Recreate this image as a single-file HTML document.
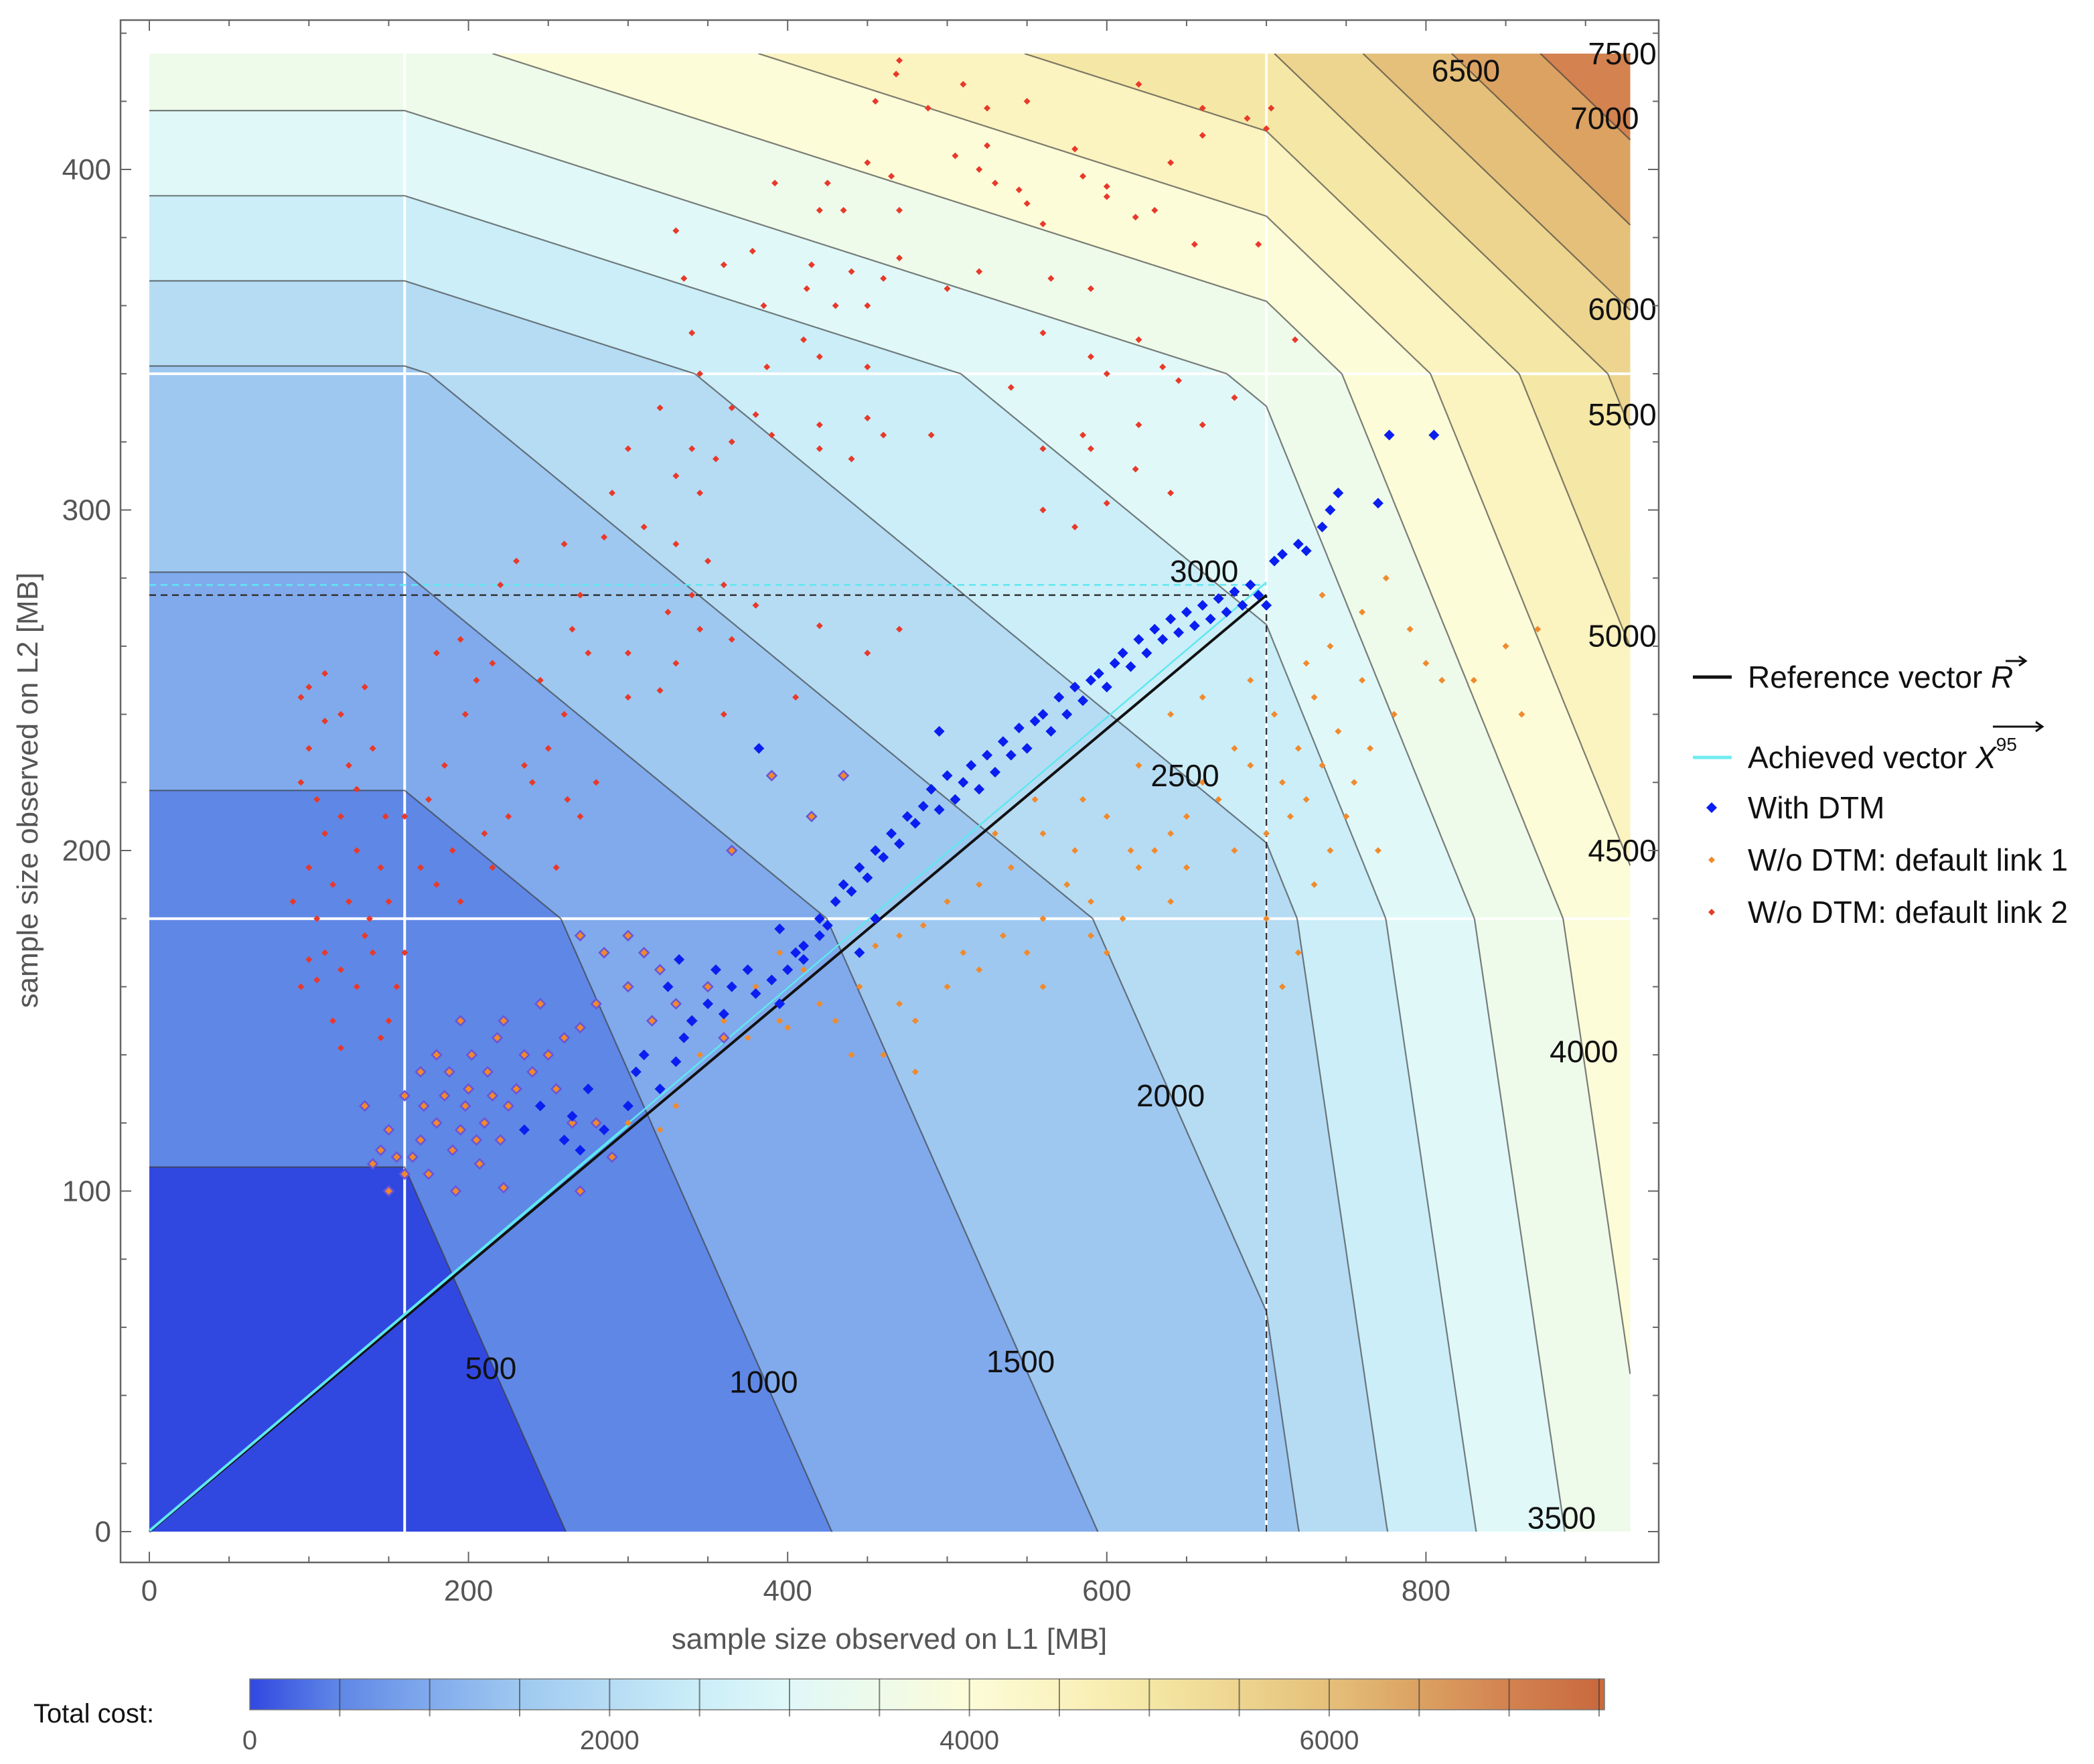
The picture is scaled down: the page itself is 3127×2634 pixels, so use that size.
<!DOCTYPE html>
<html><head><meta charset="utf-8">
<style>
html,body{margin:0;padding:0;background:#fff;}
svg{display:block;font-family:"Liberation Sans",sans-serif;}
</style></head>
<body>
<svg id="chart" width="3127" height="2634" viewBox="0 0 3127 2634" xmlns="http://www.w3.org/2000/svg">
<defs>
<clipPath id="plotClip"><rect x="223" y="80" width="2212" height="2208"/></clipPath>
<clipPath id="frameClip"><rect x="180" y="30" width="2297" height="2303"/></clipPath>
<linearGradient id="cbGrad" x1="0" x2="1" y1="0" y2="0"></linearGradient>
</defs>
<g id="fills" clip-path="url(#plotClip)"></g>
<g id="grid"></g>
<g id="lines" clip-path="url(#plotClip)"></g>
<g id="vectors"></g>
<g id="points"></g>
<g id="clabels" clip-path="url(#frameClip)" font-size="46" fill="#111"></g>
<g id="axes"></g>
<g id="legend"></g>
<g id="colorbar"></g>
</svg>
<script>
// ---- cost model data ----
const baseCost = 197;
const xBreaks = [160, 700];
const xSlopes = [0, 3, 9];
const yBreaks = [180, 340];
const ySlopes = [2.83, 7.8, 20];
const levels = [500,1000,1500,2000,2500,3000,3500,4000,4500,5000,5500,6000,6500,7000,7500];
const bandColors = ['#3148e0','#5f87e6','#80aaec','#9ec8f0','#b6dcf4','#cbeef8','#e0f8f8','#eefaea','#fcfcd8','#fbf3c0','#f5e7a5','#edd58f','#e5c07a','#dba262','#d38250','#c96a3e'];
const xTicks = [0,200,400,600,800];
const yTicks = [0,100,200,300,400];
const cbTicks = [0,2000,4000,6000];
const contourLabelText = ['500','1000','1500','2000','2500','3000','3500','4000','4500','5000','5500','6000','6500','7000','7500'];
const contourLabelX = [214,385,546,640,649,661,885,899,923,923,923,923,825,912,923];
const contourLabelY = [48,44,50,128,222,282,4,141,200,263,328,359,429,415,434];
const refVector = [700, 275];
const achVector = [700, 278];

const withDTM = [[235,118],[245,125],[260,115],[270,112],[285,118],[300,125],[305,135],[310,140],[320,130],[330,138],[335,145],[340,150],[350,155],[360,152],[365,160],[375,165],[380,158],[390,162],[395,155],[400,165],[405,170],[410,168],[420,180],[425,178],[430,185],[435,190],[440,188],[445,195],[450,192],[455,200],[460,198],[465,205],[470,202],[475,210],[480,208],[485,213],[490,218],[495,212],[500,222],[505,215],[510,220],[515,225],[520,218],[525,228],[530,223],[535,232],[540,228],[545,236],[550,230],[555,238],[560,240],[565,235],[570,245],[575,240],[580,248],[585,244],[590,250],[595,252],[600,248],[605,255],[610,258],[615,254],[620,262],[625,258],[630,265],[635,262],[640,268],[645,264],[650,270],[655,266],[660,272],[665,268],[670,274],[675,270],[680,276],[685,272],[690,278],[695,275],[700,272],[705,285],[710,287],[720,290],[725,288],[735,295],[740,300],[745,305],[770,302],[777,322],[805,322],[332,168],[382,230],[355,165],[495,235],[455,180],[445,170],[420,175],[395,177],[410,172],[325,160],[275,130],[265,122]];
const link1 = [[440,140],[430,150],[470,155],[480,150],[500,160],[510,170],[520,165],[535,175],[550,170],[560,180],[575,190],[590,185],[600,170],[610,180],[620,195],[630,200],[640,205],[650,210],[660,220],[670,215],[680,230],[690,225],[700,205],[705,240],[710,220],[715,210],[720,230],[725,215],[730,245],[735,225],[740,200],[745,235],[750,210],[755,220],[760,250],[765,230],[780,240],[790,265],[800,255],[810,250],[830,250],[850,260],[860,240],[870,265],[775,280],[760,270],[735,275],[690,250],[660,245],[640,240],[620,225],[600,210],[580,200],[560,205],[540,195],[520,190],[500,185],[485,178],[470,175],[455,172],[445,160],[410,165],[395,170],[420,155],[395,150],[375,145],[360,150],[345,140],[330,125],[320,118],[300,120],[310,140],[350,160],[380,160],[400,148],[460,140],[480,135],[560,160],[590,175],[640,185],[680,200],[700,180],[710,160],[720,170],[650,195],[615,200],[585,215],[555,215],[530,205],[725,255],[740,260],[770,200],[730,190]];
const link1Outlined = [[135,125],[140,108],[145,112],[150,118],[155,110],[160,105],[165,110],[170,115],[172,125],[175,105],[180,120],[185,128],[188,135],[190,112],[192,100],[195,118],[198,125],[200,130],[202,140],[205,115],[207,108],[210,120],[212,135],[215,128],[218,145],[220,115],[222,150],[225,125],[230,130],[235,140],[240,135],[245,155],[250,140],[255,130],[260,145],[265,120],[270,148],[280,120],[290,110],[195,150],[180,140],[170,135],[160,128],[150,100],[270,175],[285,170],[300,175],[310,170],[320,165],[330,155],[340,150],[350,160],[360,145],[300,160],[315,150],[280,155],[390,222],[435,222],[415,210],[365,200],[270,100],[222,101]];
const link2 = [[470,432],[468,428],[510,425],[455,420],[488,418],[525,418],[550,420],[620,425],[660,418],[688,415],[580,406],[525,407],[505,404],[520,400],[450,402],[465,398],[425,396],[392,396],[530,396],[545,394],[585,398],[600,395],[640,402],[660,410],[700,412],[420,388],[435,388],[470,388],[550,390],[600,392],[618,386],[630,388],[560,384],[655,378],[695,378],[330,382],[360,372],[378,376],[335,368],[415,372],[430,360],[440,370],[470,374],[520,370],[565,368],[590,365],[500,365],[385,360],[412,365],[450,360],[460,368],[410,350],[420,345],[340,352],[345,340],[387,342],[450,342],[560,352],[590,345],[620,350],[635,342],[645,338],[600,340],[540,336],[365,330],[380,328],[420,325],[450,327],[320,330],[300,318],[340,318],[330,310],[345,305],[355,315],[365,320],[420,318],[440,315],[460,322],[390,322],[490,322],[560,318],[585,322],[590,318],[620,325],[618,312],[560,300],[640,305],[580,295],[660,325],[680,333],[600,302],[290,305],[310,295],[285,292],[330,290],[350,285],[360,278],[325,270],[340,275],[345,265],[365,262],[380,272],[420,266],[470,265],[300,258],[260,290],[230,285],[220,278],[270,275],[265,265],[275,258],[245,250],[260,240],[300,245],[320,247],[330,255],[360,240],[405,245],[450,258],[250,230],[262,215],[255,195],[270,210],[280,220],[235,225],[215,255],[180,258],[195,262],[205,250],[198,240],[185,225],[175,215],[210,205],[225,210],[240,220],[190,200],[180,190],[160,210],[170,195],[195,185],[215,195],[95,245],[100,248],[110,252],[120,240],[135,248],[125,225],[140,230],[95,220],[105,215],[110,205],[120,210],[130,200],[145,195],[100,195],[90,185],[115,190],[125,185],[138,180],[150,185],[105,180],[110,170],[100,168],[120,165],[95,160],[130,160],[140,170],[150,150],[115,150],[120,142],[145,145],[105,162],[160,170],[155,160],[135,175],[100,230],[130,218],[148,210],[110,238],[703,418],[718,350]];

// ---- axis functions ----
const X0 = 223, XS = 2.383, Y0 = 2287, YS = 5.085;
const XMAX = 928, YMAX = 434;
function sx(v){ return X0 + XS * v; }
function sy(v){ return Y0 - YS * v; }
const NS = 'http://www.w3.org/2000/svg';
function mk(tag, attrs, parent){
  const e = document.createElementNS(NS, tag);
  for (const k in attrs) e.setAttribute(k, attrs[k]);
  parent.appendChild(e); return e;
}
function fx(x){
  if (x <= xBreaks[0]) return xSlopes[0]*x;
  const f1 = xSlopes[0]*xBreaks[0];
  if (x <= xBreaks[1]) return f1 + xSlopes[1]*(x - xBreaks[0]);
  return f1 + xSlopes[1]*(xBreaks[1]-xBreaks[0]) + xSlopes[2]*(x - xBreaks[1]);
}
function ginv(v){
  const g1 = ySlopes[0]*yBreaks[0];
  const g2 = g1 + ySlopes[1]*(yBreaks[1]-yBreaks[0]);
  if (v <= g1) return v / ySlopes[0];
  if (v <= g2) return yBreaks[0] + (v - g1)/ySlopes[1];
  return yBreaks[1] + (v - g2)/ySlopes[2];
}
function contourY(L, x){ return ginv(L - baseCost - fx(x)); }

const fills = document.getElementById('fills');
const linesG = document.getElementById('lines');
let r = mk('rect', {x:sx(0), y:sy(YMAX), width:sx(XMAX)-sx(0), height:sy(0)-sy(YMAX), fill:bandColors[0]}, fills);



levels.forEach((L, i) => {
  const pts = [], raw = [];
  for (let x = 0; x <= XMAX + 1e-9; x += 0.5) {
    const y = contourY(L, x);
    raw.push([x, y]);
    const yc = Math.max(0, Math.min(YMAX, y));
    pts.push(sx(x).toFixed(1) + ',' + sy(yc).toFixed(1));
  }
  pts.push(sx(XMAX) + ',' + sy(YMAX));
  pts.push(sx(0) + ',' + sy(YMAX));
  const poly = mk('polygon', {points: pts.join(' '), fill: bandColors[i+1]}, fills);
  
  
  const inr = raw.map(p => p[1] > 0 && p[1] < YMAX);
  const lp = [];
  raw.forEach((p, k) => {
    if (inr[k] || (k > 0 && inr[k-1]) || (k < raw.length-1 && inr[k+1])) {
      const yc = Math.max(0, Math.min(YMAX, p[1]));
      lp.push(sx(p[0]).toFixed(1) + ',' + sy(yc).toFixed(1));
    }
  });
  if (lp.length > 1) {
    const pl = mk('polyline', {points: lp.join(' '), fill:'none', stroke:'#3a3a3a', 'stroke-opacity':'0.65', 'stroke-width':'2.2'}, linesG);
    
    
  }
});

// white grid lines at breakpoints
const gridG = document.getElementById('grid');
xBreaks.forEach(b => {
  const l = mk('line', {x1:sx(b), x2:sx(b), y1:sy(0), y2:sy(YMAX), stroke:'#fff', 'stroke-width':'4'}, gridG);
  
  
});
yBreaks.forEach(b => {
  const l = mk('line', {x1:sx(0), x2:sx(XMAX), y1:sy(b), y2:sy(b), stroke:'#fff', 'stroke-width':'4'}, gridG);
  
  
});

// vectors
const vg = document.getElementById('vectors');
let e;
e = mk('line', {x1:sx(0), y1:sy(achVector[1]), x2:sx(achVector[0]), y2:sy(achVector[1]), stroke:'#5ee8f0', 'stroke-width':'2.5', 'stroke-dasharray':'10,7'}, vg);


e = mk('line', {x1:sx(0), y1:sy(refVector[1]), x2:sx(refVector[0]), y2:sy(refVector[1]), stroke:'#333', 'stroke-width':'2.5', 'stroke-dasharray':'10,7'}, vg);


e = mk('line', {x1:sx(refVector[0]), y1:sy(0), x2:sx(refVector[0]), y2:sy(refVector[1]), stroke:'#333', 'stroke-width':'2.5', 'stroke-dasharray':'10,7'}, vg);


e = mk('line', {x1:sx(0), y1:sy(0), x2:sx(refVector[0]), y2:sy(refVector[1]), stroke:'#111', 'stroke-width':'4'}, vg);


e = mk('line', {x1:sx(0), y1:sy(0)-1, x2:sx(achVector[0]*0.43), y2:sy(achVector[1]*0.43)-1, stroke:'#5ee8f0', 'stroke-width':'4'}, vg);


e = mk('line', {x1:sx(achVector[0]*0.43), y1:sy(achVector[1]*0.43)-4, x2:sx(achVector[0]), y2:sy(achVector[1])-4, stroke:'#5ee8f0', 'stroke-width':'2.5'}, vg);



// points
const pg = document.getElementById('points');
function diamond(cx, cy, h){ return `${cx},${cy-h} ${cx+h},${cy} ${cx},${cy+h} ${cx-h},${cy}`; }
link2.forEach(p => {
  const d = mk('polygon', {points: diamond(sx(p[0]), sy(p[1]), 5), fill:'#e8392a'}, pg);
  
  
});
link1.forEach(p => {
  const d = mk('polygon', {points: diamond(sx(p[0]), sy(p[1]), 5), fill:'#f08a2c'}, pg);
  
  
});
link1Outlined.forEach(p => {
  const d = mk('polygon', {points: diamond(sx(p[0]), sy(p[1]), 7), fill:'#f08a2c', stroke:'#6a55d8', 'stroke-width':'2.5'}, pg);
  
  
});
withDTM.forEach(p => {
  const d = mk('polygon', {points: diamond(sx(p[0]), sy(p[1]), 8), fill:'#0a1ef0'}, pg);
  
  
});

// contour labels
const cl = document.getElementById('clabels');
contourLabelText.forEach((t, i) => {
  const tx = mk('text', {x:sx(contourLabelX[i]), y:sy(contourLabelY[i]) + 16, 'text-anchor':'middle'}, cl);
  tx.textContent = t;
  
  
});

// axes / frame
const ax = document.getElementById('axes');
e = mk('rect', {x:180, y:30, width:2297, height:2303, fill:'none', stroke:'#666', 'stroke-width':'2.5'}, ax);


for (let v = 0; v <= 900; v += 50) {
  const major = v % 200 === 0;
  const len = major ? 16 : 9;
  e = mk('line', {x1:sx(v), x2:sx(v), y1:2333, y2:2333-len, stroke:'#666', 'stroke-width':'2'}, ax);
  
  
  e = mk('line', {x1:sx(v), x2:sx(v), y1:30, y2:30+len, stroke:'#666', 'stroke-width':'2'}, ax);
  
  
}
for (let v = 0; v <= 440; v += 20) {
  const major = v % 100 === 0;
  const len = major ? 16 : 9;
  e = mk('line', {x1:180, x2:180+len, y1:sy(v), y2:sy(v), stroke:'#666', 'stroke-width':'2'}, ax);
  
  
  e = mk('line', {x1:2477, x2:2477-len, y1:sy(v), y2:sy(v), stroke:'#666', 'stroke-width':'2'}, ax);
  
  
}
xTicks.forEach(v => {
  const t = mk('text', {x:sx(v), y:2390, 'text-anchor':'middle', 'font-size':'44', fill:'#555'}, ax);
  t.textContent = v;
  
  
});
yTicks.forEach(v => {
  const t = mk('text', {x:166, y:sy(v)+15, 'text-anchor':'end', 'font-size':'44', fill:'#555'}, ax);
  t.textContent = v;
  
  
});
e = mk('text', {x:1328, y:2462, 'text-anchor':'middle', 'font-size':'44', fill:'#555'}, ax);
e.textContent = 'sample size observed on L1 [MB]';


e = mk('text', {x:0, y:0, 'text-anchor':'middle', 'font-size':'44', fill:'#555', transform:'translate(56,1180) rotate(-90)'}, ax);
e.textContent = 'sample size observed on L2 [MB]';



// legend
const lg = document.getElementById('legend');
const legendTexts = ['Reference vector ', 'Achieved vector ', 'With DTM', 'W/o DTM: default link 1', 'W/o DTM: default link 2'];
const legendY = [1011, 1131, 1206, 1284, 1362];
e = mk('line', {x1:2528, x2:2586, y1:legendY[0], y2:legendY[0], stroke:'#111', 'stroke-width':'5'}, lg);


e = mk('line', {x1:2528, x2:2586, y1:legendY[1], y2:legendY[1], stroke:'#6fecf2', 'stroke-width':'5'}, lg);


e = mk('polygon', {points: diamond(2556, legendY[2], 8), fill:'#0a1ef0'}, lg);


e = mk('polygon', {points: diamond(2556, legendY[3], 5), fill:'#f08a2c'}, lg);


e = mk('polygon', {points: diamond(2556, legendY[4], 5), fill:'#e8392a'}, lg);


legendTexts.forEach((t, i) => {
  const tx = mk('text', {x:2610, y:legendY[i]+16, 'font-size':'46', fill:'#111'}, lg);
  tx.textContent = t;
  
  
  if (i === 0) {
    const ts = mk('tspan', {'font-style':'italic'}, tx); ts.textContent = 'R';
  }
  if (i === 1) {
    const ts = mk('tspan', {'font-style':'italic'}, tx); ts.textContent = 'X';
    const sup = mk('tspan', {'font-size':'28', dy:'-26'}, tx); sup.textContent = '95';
  }
});
// vector arrows over symbols
e = mk('path', {d:'M2995,987 L3025,987 M3015,980 L3025,987 L3015,994', stroke:'#111', 'stroke-width':'3', fill:'none'}, lg);


e = mk('path', {d:'M2976,1085 L3050,1085 M3040,1078 L3050,1085 L3040,1092', stroke:'#111', 'stroke-width':'3', fill:'none'}, lg);



// colorbar
const cbX0 = 373, cbX1 = 2396, cbY0 = 2507, cbY1 = 2553, cbMax = 7530;
function cx(v){ return cbX0 + (cbX1 - cbX0) * v / cbMax; }
const grad = document.getElementById('cbGrad');
bandColors.slice(0, 15).forEach((c, i) => {
  const s1 = document.createElementNS(NS, 'stop');
  s1.setAttribute('offset', (i*500/cbMax).toFixed(4));
  s1.setAttribute('stop-color', c);
  grad.appendChild(s1);
  const s2 = document.createElementNS(NS, 'stop');
  s2.setAttribute('offset', Math.min(1, ((i+1)*500/cbMax) - 0.001).toFixed(4));
  s2.setAttribute('stop-color', bandColors[i+1]);
  grad.appendChild(s2);
});
const cb = document.getElementById('colorbar');
e = mk('rect', {x:cbX0, y:cbY0, width:cbX1-cbX0, height:cbY1-cbY0, fill:'url(#cbGrad)', stroke:'#777', 'stroke-width':'1.5'}, cb);


levels.forEach(L => {
  if (L >= cbMax) return;
  const l = mk('line', {x1:cx(L), x2:cx(L), y1:cbY0, y2:cbY1+10, stroke:'#333', 'stroke-opacity':'0.6', 'stroke-width':'2'}, cb);
  
  
});
cbTicks.forEach(v => {
  const t = mk('text', {x:cx(v), y:2612, 'text-anchor':'middle', 'font-size':'40', fill:'#555'}, cb);
  t.textContent = v;
  
  
});
e = mk('text', {x:50, y:2572, 'font-size':'40', fill:'#111'}, cb);
e.textContent = 'Total cost:';


</script>
</body></html>
